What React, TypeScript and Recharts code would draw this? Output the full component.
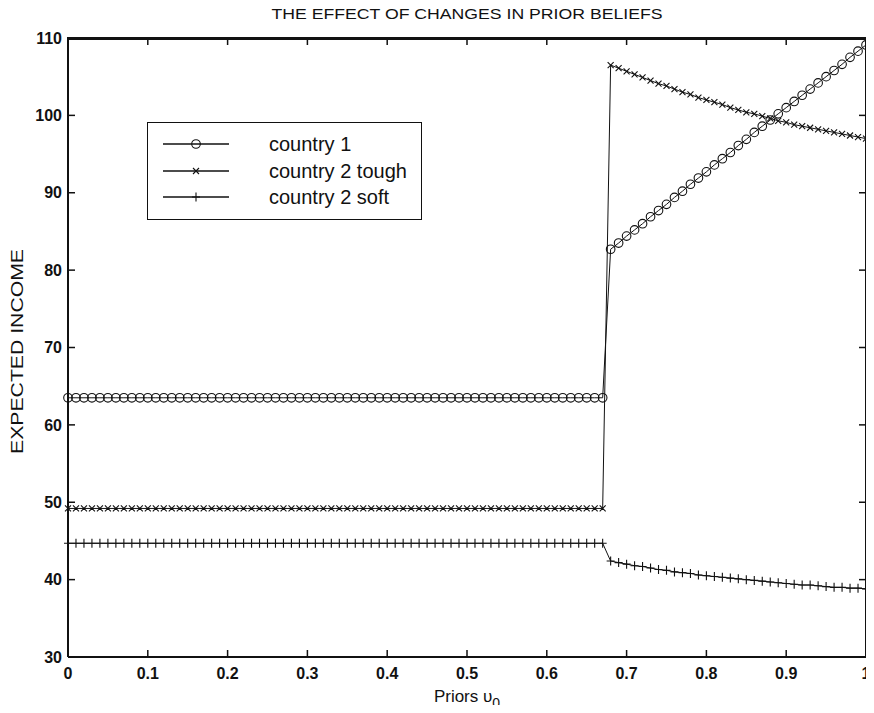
import React from 'react';
import { LineChart, Line, XAxis, YAxis, Legend, Label } from 'recharts';

const FONT = '"Liberation Sans", Arial, Helvetica, sans-serif';
const INK = '#111';

const TITLE = 'THE EFFECT OF CHANGES IN PRIOR BELIEFS';
const Y_TITLE = 'EXPECTED INCOME';

// priors grid (step 0.01)
const priors = [
  0, 0.01, 0.02, 0.03, 0.04, 0.05, 0.06, 0.07, 0.08, 0.09,
  0.1, 0.11, 0.12, 0.13, 0.14, 0.15, 0.16, 0.17, 0.18, 0.19,
  0.2, 0.21, 0.22, 0.23, 0.24, 0.25, 0.26, 0.27, 0.28, 0.29,
  0.3, 0.31, 0.32, 0.33, 0.34, 0.35, 0.36, 0.37, 0.38, 0.39,
  0.4, 0.41, 0.42, 0.43, 0.44, 0.45, 0.46, 0.47, 0.48, 0.49,
  0.5, 0.51, 0.52, 0.53, 0.54, 0.55, 0.56, 0.57, 0.58, 0.59,
  0.6, 0.61, 0.62, 0.63, 0.64, 0.65, 0.66, 0.67, 0.68, 0.69,
  0.7, 0.71, 0.72, 0.73, 0.74, 0.75, 0.76, 0.77, 0.78, 0.79,
  0.8, 0.81, 0.82, 0.83, 0.84, 0.85, 0.86, 0.87, 0.88, 0.89,
  0.9, 0.91, 0.92, 0.93, 0.94, 0.95, 0.96, 0.97, 0.98, 0.99,
  1,
];

const country1 = [
  63.5, 63.5, 63.5, 63.5, 63.5, 63.5, 63.5, 63.5, 63.5, 63.5, 63.5, 63.5, 63.5, 63.5, 63.5, 63.5, 63.5,
  63.5, 63.5, 63.5, 63.5, 63.5, 63.5, 63.5, 63.5, 63.5, 63.5, 63.5, 63.5, 63.5, 63.5, 63.5, 63.5, 63.5,
  63.5, 63.5, 63.5, 63.5, 63.5, 63.5, 63.5, 63.5, 63.5, 63.5, 63.5, 63.5, 63.5, 63.5, 63.5, 63.5, 63.5,
  63.5, 63.5, 63.5, 63.5, 63.5, 63.5, 63.5, 63.5, 63.5, 63.5, 63.5, 63.5, 63.5, 63.5, 63.5, 63.5, 63.5,
  82.7, 83.5, 84.4, 85.2, 86.0, 86.9, 87.7, 88.5, 89.4, 90.2, 91.1, 91.9, 92.7, 93.6, 94.4, 95.2, 96.1,
  96.9, 97.8, 98.6, 99.4, 100.2, 101.0, 101.8, 102.6, 103.4, 104.2, 105.0, 105.8, 106.6, 107.5, 108.3, 109.1,
];

const tough = [
  49.2, 49.2, 49.2, 49.2, 49.2, 49.2, 49.2, 49.2, 49.2, 49.2, 49.2, 49.2, 49.2, 49.2, 49.2, 49.2, 49.2,
  49.2, 49.2, 49.2, 49.2, 49.2, 49.2, 49.2, 49.2, 49.2, 49.2, 49.2, 49.2, 49.2, 49.2, 49.2, 49.2, 49.2,
  49.2, 49.2, 49.2, 49.2, 49.2, 49.2, 49.2, 49.2, 49.2, 49.2, 49.2, 49.2, 49.2, 49.2, 49.2, 49.2, 49.2,
  49.2, 49.2, 49.2, 49.2, 49.2, 49.2, 49.2, 49.2, 49.2, 49.2, 49.2, 49.2, 49.2, 49.2, 49.2, 49.2, 49.2,
  106.5, 106.1, 105.7, 105.3, 104.9, 104.5, 104.1, 103.8, 103.4, 103.0, 102.7, 102.3, 102.0, 101.7, 101.4, 101.0, 100.7,
  100.4, 100.2, 99.9, 99.6, 99.3, 99.1, 98.8, 98.6, 98.4, 98.2, 98.0, 97.8, 97.6, 97.4, 97.2, 97.0,
];

const soft = [
  44.7, 44.7, 44.7, 44.7, 44.7, 44.7, 44.7, 44.7, 44.7, 44.7, 44.7, 44.7, 44.7, 44.7, 44.7, 44.7, 44.7,
  44.7, 44.7, 44.7, 44.7, 44.7, 44.7, 44.7, 44.7, 44.7, 44.7, 44.7, 44.7, 44.7, 44.7, 44.7, 44.7, 44.7,
  44.7, 44.7, 44.7, 44.7, 44.7, 44.7, 44.7, 44.7, 44.7, 44.7, 44.7, 44.7, 44.7, 44.7, 44.7, 44.7, 44.7,
  44.7, 44.7, 44.7, 44.7, 44.7, 44.7, 44.7, 44.7, 44.7, 44.7, 44.7, 44.7, 44.7, 44.7, 44.7, 44.7, 44.7,
  42.4, 42.2, 42.0, 41.8, 41.7, 41.5, 41.3, 41.2, 41.0, 40.9, 40.8, 40.6, 40.5, 40.4, 40.3, 40.2, 40.1,
  40.0, 39.9, 39.8, 39.7, 39.6, 39.5, 39.4, 39.3, 39.3, 39.2, 39.1, 39.0, 39.0, 38.9, 38.9, 38.8,
];

const xTicks = [0, 0.1, 0.2, 0.3, 0.4, 0.5, 0.6, 0.7, 0.8, 0.9, 1];
const yTicks = [30, 40, 50, 60, 70, 80, 90, 100, 110];

const seriesNames = ['country 1', 'country 2 tough', 'country 2 soft'];

const rows = priors.map((p, i) => ({ p, c1: country1[i], tough: tough[i], soft: soft[i] }));

// chart geometry
const W = 874;
const H = 713;
const MARGIN = { top: 30, right: 7, bottom: 0, left: 8 };
const TOP_AXIS_H = 8;
const BOTTOM_AXIS_H = 56;
const LEFT_AXIS_W = 60;
const RIGHT_AXIS_W = 1;
const plotLeft = MARGIN.left + LEFT_AXIS_W;
const plotTop = MARGIN.top + TOP_AXIS_H;
const plotW = W - MARGIN.left - MARGIN.right - LEFT_AXIS_W - RIGHT_AXIS_W;
const plotH = H - MARGIN.top - MARGIN.bottom - TOP_AXIS_H - BOTTOM_AXIS_H;

// marker shapes
const circleMark = (cx: number, cy: number, k: any) => (
  <circle key={k} cx={cx} cy={cy} r={4.3} fill="none" stroke={INK} strokeWidth={1.1} />
);
const crossMark = (cx: number, cy: number, k: any) => (
  <path key={k} d={`M${cx - 3},${cy - 3}L${cx + 3},${cy + 3}M${cx - 3},${cy + 3}L${cx + 3},${cy - 3}`} stroke={INK} strokeWidth={1.1} />
);
const plusMark = (cx: number, cy: number, k: any) => (
  <path key={k} d={`M${cx - 4},${cy}L${cx + 4},${cy}M${cx},${cy - 4.5}L${cx},${cy + 4.5}`} stroke={INK} strokeWidth={1.1} />
);
const marks = [circleMark, crossMark, plusMark];

const dotFor = (fn: any) => (props: any) => {
  const k = `d${props.index}`;
  if (props.cx == null || props.cy == null) return <g key={k} />;
  return fn(props.cx, props.cy, k);
};

const LegendBox = () => (
  <div
    style={{
      border: `1.5px solid ${INK}`,
      background: '#fff',
      padding: '8px 14px 8px 0',
      fontFamily: FONT,
      fontSize: 20,
      color: INK,
      display: 'inline-block',
    }}
  >
    {seriesNames.map((name, i) => (
      <div key={name} style={{ display: 'flex', alignItems: 'center', height: 26.5 }}>
        <svg width={121} height={26} style={{ display: 'block' }}>
          <line x1={15} x2={81} y1={13} y2={13} stroke={INK} strokeWidth={1.5} />
          {marks[i](48, 13, 'm')}
        </svg>
        <span style={{ whiteSpace: 'nowrap', lineHeight: '26px' }}>{name}</span>
      </div>
    ))}
  </div>
);

const TitleLabel = (props: any) => {
  const vb = props.viewBox || {};
  return (
    <text x={vb.x + vb.width / 2} y={vb.y + vb.height - 19} textAnchor="middle" fontFamily={FONT} fontSize={14} fill={INK} textLength={391} lengthAdjust="spacingAndGlyphs">
      {TITLE}
    </text>
  );
};

const XTitle = (props: any) => {
  const vb = props.viewBox || {};
  return (
    <text x={vb.x + vb.width / 2} y={vb.y + 45} textAnchor="middle" fontFamily={FONT} fontSize={17} fill={INK}>
      Priors υ<tspan dy={6} fontSize={14}>0</tspan>
    </text>
  );
};

const YTitle = (props: any) => {
  const vb = props.viewBox || {};
  const cx = 17;
  const cy = vb.y + vb.height / 2 + 4;
  return (
    <text x={cx} y={cy} transform={`rotate(-90 ${cx} ${cy})`} textAnchor="middle" dominantBaseline="central" fontFamily={FONT} fontSize={16} fill={INK} textLength={205} lengthAdjust="spacingAndGlyphs">
      {Y_TITLE}
    </text>
  );
};

const axisLine = { stroke: INK, strokeWidth: 2 };
const tickLine = { stroke: INK, strokeWidth: 1.5 };
const tickText = { fill: INK, fontSize: 16, fontWeight: 'bold', fontFamily: FONT };
const blank = () => '';

export default function App() {
  return (
    <div style={{ position: 'relative', width: W, height: H, margin: -8, background: '#fff' }}>
      <LineChart width={W} height={H} data={rows} margin={MARGIN}>
        <XAxis xAxisId="b" dataKey="p" type="number" domain={[0, 1]} ticks={xTicks} interval={0}
          height={BOTTOM_AXIS_H} stroke={INK} axisLine={axisLine} tickLine={tickLine} tickSize={-7} tickMargin={18} tick={tickText}>
          <Label content={XTitle} />
        </XAxis>
        <XAxis xAxisId="t" orientation="top" dataKey="p" type="number" domain={[0, 1]} ticks={xTicks} interval={0}
          height={TOP_AXIS_H} stroke={INK} axisLine={axisLine} tickLine={tickLine} tickSize={-7} tick={tickText} tickFormatter={blank}>
          <Label content={TitleLabel} />
        </XAxis>
        <YAxis yAxisId="l" type="number" domain={[30, 110]} ticks={yTicks} interval={0}
          width={LEFT_AXIS_W} stroke={INK} axisLine={axisLine} tickLine={tickLine} tickSize={-7} tickMargin={13} tick={tickText}>
          <Label content={YTitle} />
        </YAxis>
        <YAxis yAxisId="r" orientation="right" type="number" domain={[30, 110]} ticks={yTicks} interval={0}
          width={RIGHT_AXIS_W} stroke={INK} axisLine={axisLine} tickLine={tickLine} tickSize={-7} tick={tickText} tickFormatter={blank} />
        <Legend
          layout="vertical"
          align="center"
          verticalAlign="middle"
          wrapperStyle={{ left: 147, top: 122, width: 'auto', height: 'auto' }}
          content={() => <LegendBox />}
        />
        {/* invisible carrier so the mirrored frame axes get drawn */}
        <Line xAxisId="t" yAxisId="r" type="linear" dataKey="c1" stroke="none" dot={false} activeDot={false}
          legendType="none" isAnimationActive={false} />
        <Line xAxisId="b" yAxisId="l" type="linear" dataKey="c1" name={seriesNames[0]} stroke={INK} strokeWidth={1}
          dot={dotFor(circleMark)} activeDot={false} isAnimationActive={false} />
        <Line xAxisId="b" yAxisId="l" type="linear" dataKey="tough" name={seriesNames[1]} stroke={INK} strokeWidth={1}
          dot={dotFor(crossMark)} activeDot={false} isAnimationActive={false} />
        <Line xAxisId="b" yAxisId="l" type="linear" dataKey="soft" name={seriesNames[2]} stroke={INK} strokeWidth={1}
          dot={dotFor(plusMark)} activeDot={false} isAnimationActive={false} />
      </LineChart>
      {/* top and right edges of the box frame */}
      <div style={{ position: 'absolute', left: plotLeft - 1, top: plotTop - 1, width: plotW + 2, height: 3, background: INK, zIndex: 5, pointerEvents: 'none' }} />
      <div style={{ position: 'absolute', left: plotLeft + plotW - 1, top: plotTop - 1, width: 3, height: plotH + 2, background: INK, zIndex: 5, pointerEvents: 'none' }} />
    </div>
  );
}
